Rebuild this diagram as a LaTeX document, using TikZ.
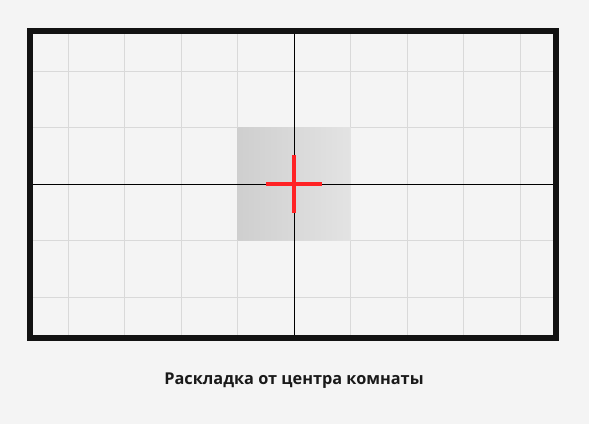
\documentclass[tikz,border=0pt]{standalone}
\usepackage{fontspec}
\setmainfont{Open Sans}
\usetikzlibrary{positioning}
\definecolor{bgcol}{HTML}{F4F4F4}
\definecolor{gridcol}{HTML}{D9D9D9}
\definecolor{crosscol}{HTML}{FF2224}

\begin{document}
\begin{tikzpicture}[x=1pt,y=-1pt,
      gridline/.style={draw=gridcol,line width=1pt},
      axisline/.style={draw=black,line width=0.9pt},
      crossline/.style={draw=crosscol,line width=4pt},
      caption/.style={font=\bfseries\fontsize{16.3}{19}\selectfont,text=black!90}]
      \fill[bgcol] (0,0) rectangle (589,424);
      \useasboundingbox (0,0) rectangle (589,424);
      % grid
      \foreach \gx in {68,124.5,181,237.5,350.5,407,463.5,520}
        \draw[gridline] (\gx,31) -- (\gx,338);
      \foreach \gy in {71,127.5,240.5,297}
        \draw[gridline] (30,\gy) -- (556,\gy);
      % centre tile
      \shade[left color=black!19,right color=black!11] (237.5,127.5) rectangle (350.5,240.5);
      % axes
      \coordinate (top) at (294,31);
      \coordinate (bottom) at (294,338);
      \coordinate (left) at (30,184);
      \coordinate (right) at (556,184);
      \draw[axisline] (top) -- (bottom);
      \draw[axisline] (left) -- (right);
      % frame
      \draw[line width=6pt,black!93] (30,31) rectangle (556,338);
      % cross
      \draw[crossline] (266,184) -- (322,184);
      \draw[crossline] (294,155) -- (294,213);
      \node[caption] (title) at (294,381) {Раскладка от центра комнаты};
    \end{tikzpicture}
\end{document}
